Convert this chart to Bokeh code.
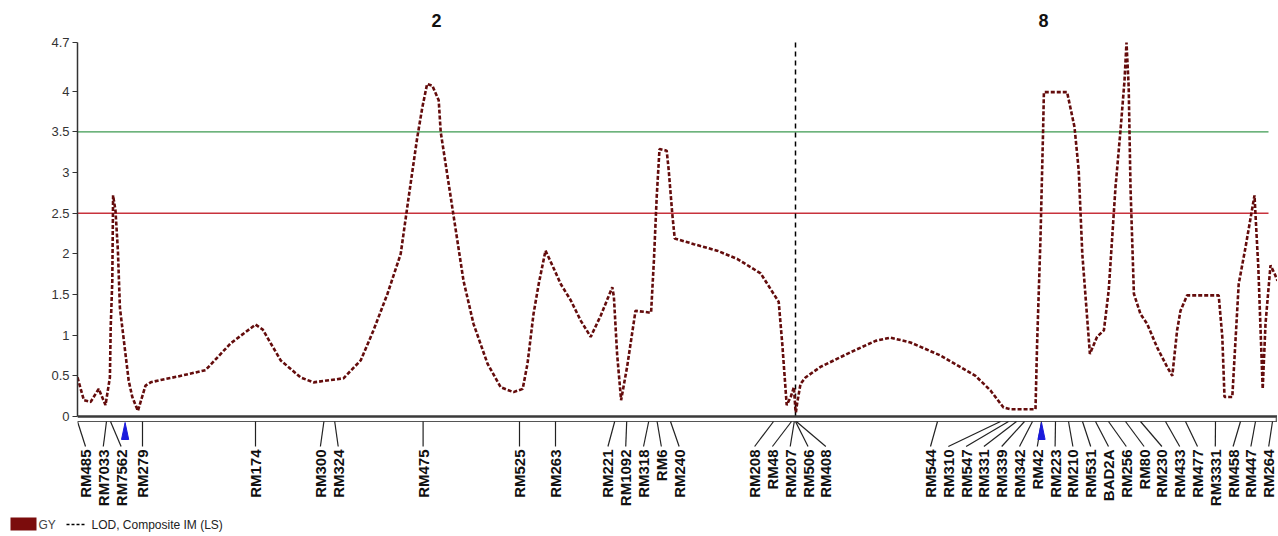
import math
from bokeh.plotting import figure
from bokeh.layouts import column
from bokeh.models import Range1d, FixedTicker
from bokeh.core.properties import value
from bokeh.embed import file_html
from bokeh.resources import INLINE

# ---------------- data ----------------
chrom_names = ["2", "8"]
chrom_lengths = [179.5, 124.0]           # cM

chr2_cm = [0.0, 1.6, 3.3, 5.3, 7.0, 8.1, 8.3, 8.7, 8.9, 9.5, 10.1, 10.6, 11.6, 12.8, 13.7,
           15.1, 15.9, 17.0, 18.3, 20.8, 24.9, 32.0, 38.3, 44.5, 46.3, 50.8, 55.8, 59.0,
           66.5, 70.8, 74.0, 77.5, 80.8, 82.8, 84.9, 86.2, 87.4, 88.7, 90.3, 90.8, 93.3,
           96.5, 99.0, 102.5, 105.8, 109.0, 111.3, 112.5, 114.0, 115.3, 117.0, 118.8,
           120.8, 123.3, 125.8, 128.3, 130.8, 133.7, 134.1, 134.9, 135.9, 137.4, 139.5,
           142.8, 143.4, 144.1, 144.8, 145.5, 147.3, 147.8, 148.7, 149.3, 154.1, 159.9,
           164.9, 170.8, 175.3, 176.2, 177.3, 178.3, 179.1, 179.5]
chr2_lod = [0.48, 0.20, 0.18, 0.34, 0.14, 0.48, 1.10, 1.67, 2.72, 2.53, 2.04, 1.34, 0.93, 0.44, 0.24,
            0.07, 0.20, 0.38, 0.42, 0.45, 0.49, 0.57, 0.90, 1.13, 1.07, 0.69, 0.48, 0.42,
            0.47, 0.69, 1.06, 1.51, 2.00, 2.70, 3.42, 3.80, 4.09, 4.07, 3.89, 3.50, 2.70,
            1.67, 1.14, 0.65, 0.36, 0.30, 0.34, 0.65, 1.26, 1.63, 2.04, 1.85,
            1.63, 1.43, 1.18, 0.98, 1.24, 1.59, 1.47, 0.77, 0.20, 0.61, 1.30,
            1.28, 1.28, 1.92, 2.70, 3.29, 3.27, 3.03, 2.49, 2.19, 2.12, 2.04,
            1.94, 1.76, 1.41, 0.89, 0.14, 0.24, 0.36, 0.07]

chr8_cm = [0.1, 0.4, 1.25, 2.5, 6.25, 13.75, 20.0, 23.75, 28.75, 36.25, 45.0, 48.75, 52.0,
           53.75, 60.0, 60.4, 61.25, 61.9, 62.1, 67.9, 69.75, 70.8, 71.7, 73.6, 75.4, 77.1,
           78.3, 80.0, 81.25, 82.25, 82.75, 83.3, 83.75, 84.6, 86.25, 87.9, 90.4, 92.9,
           94.2, 95.4, 96.25, 97.9, 105.8, 106.7, 107.25, 109.2, 110.8, 112.5, 114.75,
           115.25, 115.7, 116.8, 117.5, 118.75, 119.75, 120.5]
chr8_lod = [0.05, 0.16, 0.40, 0.48, 0.61, 0.79, 0.93, 0.97, 0.91, 0.75, 0.50, 0.32, 0.11,
            0.09, 0.09, 0.89, 2.20, 3.52, 3.99, 3.99, 3.56, 3.03, 2.00, 0.77, 0.98, 1.06,
            1.55, 2.82, 3.52, 4.13, 4.60, 4.05, 2.82, 1.51, 1.26, 1.14, 0.85, 0.61,
            0.50, 1.06, 1.30, 1.49, 1.49, 0.98, 0.24, 0.24, 1.63, 2.08, 2.72,
            2.25, 1.84, 0.34, 1.14, 1.86, 1.76, 1.67]

chr2_markers = ["RM485", "RM7033", "RM7562", "RM279", "RM174", "RM300", "RM324", "RM475",
                "RM525", "RM263", "RM221", "RM1092", "RM318", "RM6", "RM240", "RM208",
                "RM48", "RM207"]
chr2_marker_cm = [0.0, 7.25, 8.25, 16.25, 44.5, 61.6, 64.3, 86.4,
                  110.5, 119.5, 134.3, 137.3, 142.8, 144.9, 148.25, 174.0,
                  178.5, 179.2]
chr8_markers = ["RM506", "RM408", "RM544", "RM310", "RM547", "RM331", "RM339", "RM342",
                "RM42", "RM223", "RM210", "RM531", "BAD2A", "RM256", "RM80", "RM230",
                "RM433", "RM477", "RM3331", "RM458", "RM447", "RM264"]
chr8_marker_cm = [0.0, 0.2, 35.5, 51.25, 53.25, 55.25, 57.25, 59.25,
                  61.5, 65.0, 68.25, 71.75, 75.0, 78.25, 82.5, 86.25,
                  92.5, 97.5, 105.0, 111.25, 115.0, 119.25]

thresholds = [3.5, 2.5]
threshold_colors = ["#3c9a50", "#c8323c"]

qtl_chrom = ["2", "8"]
qtl_cm = [11.9, 61.5]

axis_top_label = "4.7"
trait_name = "GY"
curve_name = "LOD, Composite IM (LS)"

# ---------------- layout helpers ----------------
PXU = 81.3                     # pixels per LOD unit
offset = {"2": 0.0, "8": chrom_lengths[0]}
X_END = 300.0


def py(px_below_zero):
    """vertical screen offset below the zero line, in LOD units"""
    return -px_below_zero / PXU


def spread(xs, d, lo, hi):
    n = len(xs)
    z = [x - i * d for i, x in enumerate(xs)]
    blocks = []
    for v in z:
        blocks.append([v, 1])
        while len(blocks) > 1 and blocks[-2][0] / blocks[-2][1] > blocks[-1][0] / blocks[-1][1]:
            s, c = blocks.pop()
            blocks[-1][0] += s
            blocks[-1][1] += c
    out = []
    for s, c in blocks:
        out += [s / c] * c
    hi_z = hi - (n - 1) * d
    out = [min(max(o, lo), hi_z) for o in out]
    return [o + i * d for i, o in enumerate(out)]


p = figure(width=1277, height=514, output_backend="svg", toolbar_location=None,
           x_range=Range1d(0, X_END), y_range=Range1d(py(98), 406 / PXU),
           x_axis_location=None, min_border_left=77, min_border_right=0,
           min_border_top=10, min_border_bottom=0)
p.outline_line_color = None
p.xgrid.visible = False
p.ygrid.visible = False
p.background_fill_color = "white"
p.border_fill_color = "white"

# y axis
ticks = [0, 0.5, 1, 1.5, 2, 2.5, 3, 3.5, 4, 4.6]
p.yaxis.ticker = FixedTicker(ticks=ticks)
overrides = {}
for t in ticks:
    overrides[float(t)] = ("%g" % t)
overrides[4.6] = axis_top_label
p.yaxis.major_label_overrides = overrides
p.yaxis.bounds = (0, 4.6)
p.yaxis.axis_line_color = "#333333"
p.yaxis.axis_line_width = 1.5
p.yaxis.major_tick_line_color = "#333333"
p.yaxis.major_tick_in = 0
p.yaxis.major_tick_out = 5
p.yaxis.minor_tick_line_color = None
p.yaxis.major_label_text_font = "Liberation Sans"
p.yaxis.major_label_text_font_size = "13px"
p.yaxis.major_label_text_color = "#333333"
p.yaxis.major_label_standoff = 3

# threshold lines
for thr, col in zip(thresholds, threshold_colors):
    p.line([0, 297.75], [thr, thr], line_color=col, line_width=1.3)

# chromosome separator
p.line([offset["8"], offset["8"]], [0, 4.62], line_color="black", line_width=1.5,
       line_dash="5 4")

# chromosome titles
title_x = [offset[c] + L / 2 for c, L in zip(chrom_names, chrom_lengths)]
p.text(x=title_x, y=[4.87] * 2, text=chrom_names, text_align="center",
       text_baseline="middle", text_font=value("Liberation Sans"),
       text_font_style="bold", text_font_size="18px", text_color="#111111")

# marker bar (double line under the plot)
p.line([0, X_END], [0, 0], line_color="#3a3a3a", line_width=2.5)
p.line([0, X_END], [py(5), py(5)], line_color="#555555", line_width=1.2)
p.line([X_END - 0.3, X_END - 0.3], [0, py(5)], line_color="#555555", line_width=1.2)

# LOD curves
curve_color = "#640c0c"
for cm, lod, c in [(chr2_cm, chr2_lod, "2"), (chr8_cm, chr8_lod, "8")]:
    xs = [offset[c] + v for v in cm]
    p.line(xs, lod, line_color=curve_color, line_width=2.6, line_dash="4 2")

# marker labels and connectors
all_names = chr2_markers + chr8_markers
all_pos = [offset["2"] + v for v in chr2_marker_cm] + [offset["8"] + v for v in chr8_marker_cm]
label_pos = spread(all_pos, 17.8 / 4, 2.0, 297.8)
p.segment(x0=all_pos, y0=[py(5)] * len(all_pos), x1=label_pos, y1=[py(30)] * len(all_pos),
          line_color="#222222", line_width=1.2)
p.text(x=label_pos, y=[py(33)] * len(all_pos), text=all_names, angle=math.pi / 2,
       text_align="right", text_baseline="middle", text_font=value("Liberation Sans"),
       text_font_style="bold", text_font_size="15px", text_color="#111111")

# QTL triangles under the bar
q_x = [offset[c] + v for c, v in zip(qtl_chrom, qtl_cm)]
p.patches(xs=[[x - 0.9, x, x + 0.9] for x in q_x],
          ys=[[py(23), py(6), py(23)] for _ in q_x],
          fill_color="#1a1adc", line_color="#1a1adc")

# legend strip (separate small figure in pixel coordinates)
lg = figure(width=1277, height=20, output_backend="svg", toolbar_location=None,
            x_range=Range1d(0, 1277), y_range=Range1d(20, 0),
            x_axis_location=None, y_axis_location=None,
            min_border_left=0, min_border_right=0, min_border_top=0, min_border_bottom=0)
lg.frame_align = False
lg.outline_line_color = None
lg.xgrid.visible = False
lg.ygrid.visible = False
lg.quad(left=[10], right=[36], top=[3], bottom=[16], fill_color="#7b0c0c", line_color=None)
lg.text(x=[38], y=[10], text=[trait_name], text_align="left", text_baseline="middle",
        text_font=value("Liberation Sans"), text_font_size="12px", text_color="#444444")
lg.line([66, 86], [10, 10], line_color="black", line_width=1.5, line_dash="3 2")
lg.text(x=[91], y=[10], text=[curve_name], text_align="left", text_baseline="middle",
        text_font=value("Liberation Sans"), text_font_size="12px", text_color="#222222")

layout = column(p, lg, spacing=0)
open("out.html", "w").write(file_html(layout, INLINE))
